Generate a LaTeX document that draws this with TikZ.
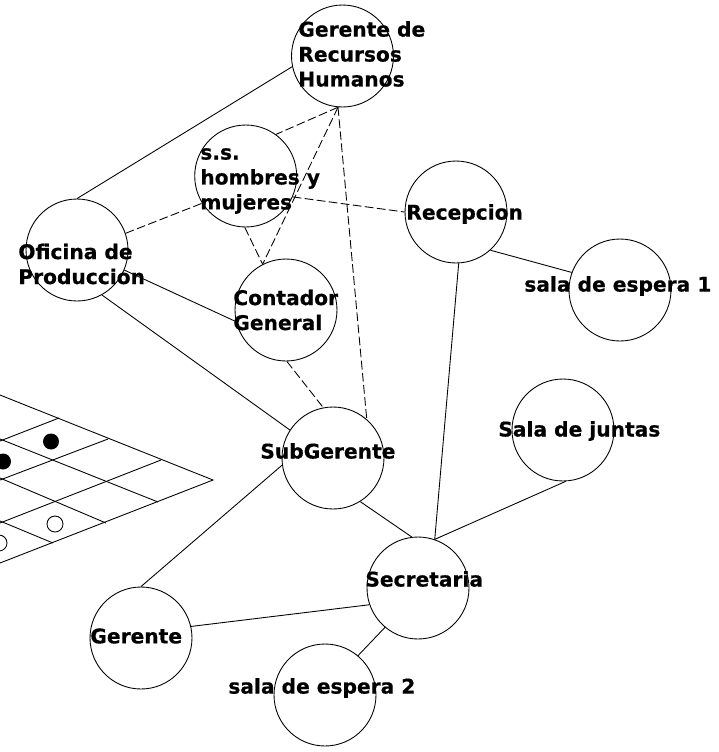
\documentclass[tikz,border=0pt]{standalone}
\usepackage{fontspec}
\setmainfont{DejaVu Sans}
\newfontfamily\roomfont[FakeBold=0.5]{DejaVu Sans Bold}
\tikzset{
  room/.style={draw,circle,minimum size=2.04cm,inner sep=0pt,line width=.5pt},
  roomlabel/.style={anchor=west,align=left,inner sep=0pt,font=\fontsize{11.5}{14.2}\selectfont\roomfont},
  link/.style={line width=.5pt},
  wall/.style={line width=.5pt,dash pattern=on 5pt off 1.9pt}
}
\begin{document}
\begin{tikzpicture}[x=.02cm,y=-.02cm]
                  \useasboundingbox (0,0) rectangle (719,752);
                  % rooms
                  \node[room] (rh) at (342.5,56) {};
                  \node[room] (ss) at (245.7,176) {};
                  \node[room] (ofi) at (77,250) {};
                  \node[room] (cont) at (286,310) {};
                  \node[room] (rec) at (456,212) {};
                  \node[room] (esp1) at (620,290) {};
                  \node[room] (jun) at (563,430) {};
                  \node[room] (sub) at (333,458) {};
                  \node[room] (sec) at (418,588) {};
                  \node[room] (ger) at (141,638) {};
                  \node[room] (esp2) at (325,695) {};
                  % labels
                  \node[roomlabel] (rhtxt) at (298,54) {Gerente de\\Recursos\\Humanos};
                  \node[roomlabel] (sstxt) at (200,181) {s.s.\\hombres y\\mujeres};
                  \node[roomlabel] (ofitxt) at (18,264) {Oficina de\\Produccion};
                  \node[roomlabel] (conttxt) at (233,310) {Contador\\General};
                  \node[roomlabel] (rectxt) at (406,214) {Recepcion};
                  \node[roomlabel] (esp1txt) at (524,286) {sala de espera 1};
                  \node[roomlabel] (juntxt) at (498,431) {Sala de juntas};
                  \node[roomlabel] (subtxt) at (260,451) {SubGerente};
                  \node[roomlabel] (sectxt) at (365,579) {Secretaria};
                  \node[roomlabel] (gertxt) at (90,636) {Gerente};
                  \node[roomlabel] (esp2txt) at (228,688) {sala de espera 2};
                  % solid links
                  \draw[link] (rh.192)--(ofi.90);
                  \draw[link] (ofi.-23)--(cont.193);
                  \draw[link] (ofi.-61)--(sub.147);
                  \draw[link] (sub.-58)--(sec.97);
                  \draw[link] (sub.188)--(ger.90);
                  \draw[link] (sec.199)--(ger.13);
                  \draw[link] (sec.230)--(esp2.50);
                  \draw[link] (sec.71)--(rec.-87);
                  \draw[link] (sec.71)--(jun.-87);
                  \draw[link] (rec.-48)--(esp1.160);
                  % dashed links
                  \draw[wall] (rh.265)--(ss.54);
                  \draw[wall] (rh.265)--(cont.117);
                  \draw[wall] (rh.265)--(sub.49);
                  \draw[wall] (ss.-24)--(rec.180);
                  \draw[wall] (ofi.19)--(ss.212);
                  \draw[wall] (ss.269)--(cont.117);
                  \draw[wall] (cont.271)--(sub.101);
                  % board
                  \begin{scope}
                      \clip (0,380) rectangle (230,570);
                      \draw[link] (0,395)--(213,480)--(0,563);
                      \draw[link] (0,439)--(158,502);
                      \draw[link] (0,478)--(106,523);
                      \draw[link] (0,521)--(53,543);
                      \draw[link] (161,460)--(0,523);
                      \draw[link] (108,439)--(0,480);
                      \draw[link] (59,418)--(0,441);
                      \fill (51,441.5) circle (8);
                      \fill (3,461.5) circle (8);
                      \draw[link] (55,524) circle (8);
                      \draw[link] (-1,543) circle (8);
                  \end{scope}
              \end{tikzpicture}
\end{document}
